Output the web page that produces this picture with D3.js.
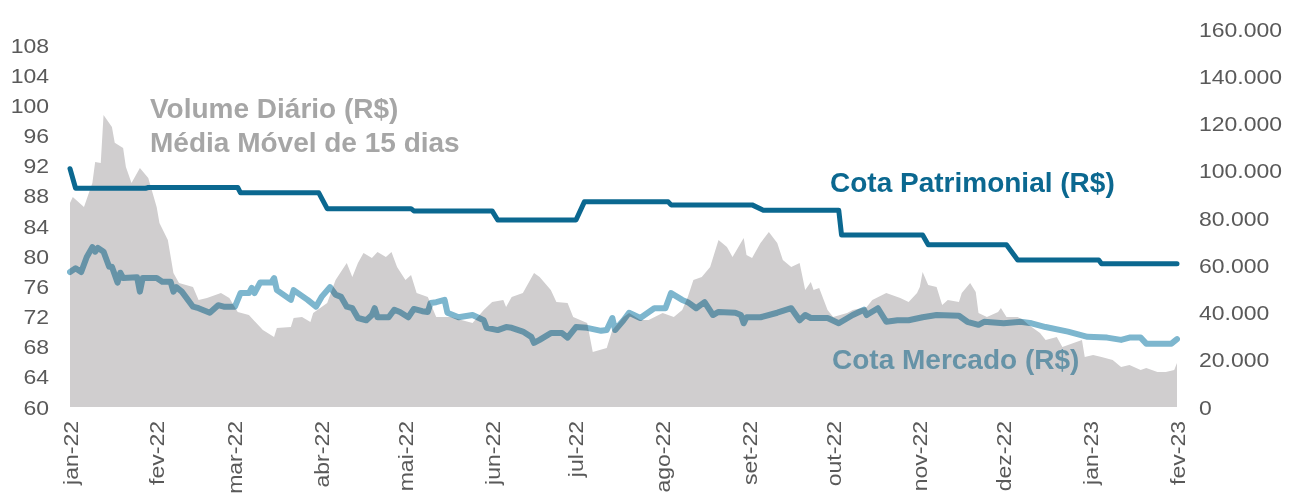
<!DOCTYPE html>
<html>
<head>
<meta charset="utf-8">
<script src="https://cdn.jsdelivr.net/npm/d3@7"></script>
<style>
  body { margin: 0; background: #fff; }
  svg { display: block; font-family: "Liberation Sans", Arial, sans-serif; }
</style>
</head>
<body>
<div id="vis"></div>
<script>
// chart frame
const FRAME_WIDTH = 1289;
const FRAME_HEIGHT = 494;
const PLOT = {left: 70, right: 1177, bottom: 407, topLeft: 45, topRight: 29};
const STRETCH = 1.15; // tick labels look wider than plain Arial

// month labels for the x axis
const monthNames = ["jan", "fev", "mar", "abr", "mai", "jun", "jul", "ago", "set", "out", "nov", "dez"];
const xStart = "2022-01-01";
const xEnd = "2023-02-01";

// left axis ticks (cota, R$) and right axis ticks (volume, R$)
const leftTicks = [60, 64, 68, 72, 76, 80, 84, 88, 92, 96, 100, 104, 108];
const rightTicks = [0, 20000, 40000, 60000, 80000, 100000, 120000, 140000, 160000];

// volume diario - media movel de 15 dias (right axis)
const volDates = [
  "2022-01-01","2022-01-02","2022-01-06","2022-01-09","2022-01-10","2022-01-12","2022-01-13","2022-01-16","2022-01-17","2022-01-20","2022-01-21","2022-01-23","2022-01-26","2022-01-29",
  "2022-02-01","2022-02-02","2022-02-05","2022-02-07","2022-02-09","2022-02-14","2022-02-16","2022-02-19","2022-02-24","2022-02-27",
  "2022-03-02","2022-03-06","2022-03-11","2022-03-15","2022-03-16","2022-03-21","2022-03-22","2022-03-25","2022-03-28","2022-03-29",
  "2022-04-03","2022-04-06","2022-04-10","2022-04-12","2022-04-14","2022-04-16","2022-04-19","2022-04-21","2022-04-24","2022-04-26","2022-04-28",
  "2022-05-01","2022-05-03","2022-05-05","2022-05-09","2022-05-12","2022-05-17","2022-05-25","2022-05-29",
  "2022-06-01","2022-06-05","2022-06-06","2022-06-08","2022-06-12","2022-06-16","2022-06-18","2022-06-22","2022-06-24","2022-06-28","2022-06-30",
  "2022-07-05","2022-07-07","2022-07-12","2022-07-14","2022-07-18","2022-07-20","2022-07-24","2022-07-27",
  "2022-08-01","2022-08-05","2022-08-08","2022-08-10","2022-08-12","2022-08-15","2022-08-18","2022-08-21","2022-08-24","2022-08-26","2022-08-30","2022-08-31",
  "2022-09-02","2022-09-05","2022-09-08","2022-09-11","2022-09-13","2022-09-16","2022-09-19","2022-09-21","2022-09-23","2022-09-24","2022-09-26","2022-09-29",
  "2022-10-01","2022-10-06","2022-10-08","2022-10-13","2022-10-15","2022-10-20","2022-10-25","2022-10-28","2022-10-31",
  "2022-11-01","2022-11-02","2022-11-04","2022-11-07","2022-11-09","2022-11-11","2022-11-15","2022-11-16","2022-11-19","2022-11-21","2022-11-22","2022-11-25","2022-11-29","2022-11-30",
  "2022-12-02","2022-12-06","2022-12-08","2022-12-10","2022-12-14","2022-12-16","2022-12-20","2022-12-22","2022-12-26","2022-12-29","2022-12-30",
  "2023-01-02","2023-01-05","2023-01-09","2023-01-12","2023-01-15","2023-01-19","2023-01-21","2023-01-25","2023-01-28","2023-01-31",
  "2023-02-01"];
const volValues = [
  86400,88900,84700,94800,103700,103300,123600,118500,111800,109600,101600,94800,101200,96900,
  84700,77900,70700,56700,52500,50800,45300,46100,48300,46100,
  40200,38900,32600,29600,33400,33900,37700,38100,36000,39800,
  44000,53800,61000,55000,61000,65200,63100,65600,63500,65600,59300,
  53800,55900,48300,46600,38100,38100,35600,41100,
  44400,45300,42300,46600,48300,56700,55000,49500,44400,44000,38100,
  35600,23300,25000,32600,38100,39800,36800,36800,
  39800,38100,41100,46600,53800,55000,59300,70700,67700,63500,71500,64300,
  63100,69400,74100,69400,62200,59300,61000,49500,52900,49500,50400,41100,
  38100,39800,41100,42300,45300,48300,46100,44400,48300,
  50800,57100,51600,50800,43200,45300,44400,48300,52500,48700,39800,38100,40200,41900,
  38100,38100,36800,34700,31300,28400,29600,25400,27100,28400,21200,
  22000,21200,19900,16900,17800,15700,16500,14800,14800,15700,
  18600];

// cota patrimonial (left axis)
const patDates = ["2022-01-01","2022-01-03","2022-01-28","2022-01-29","2022-03-02","2022-03-03","2022-03-31","2022-04-03",
  "2022-05-03","2022-05-04","2022-06-01","2022-06-03","2022-07-01","2022-07-04","2022-08-03","2022-08-04",
  "2022-09-02","2022-09-06","2022-10-03","2022-10-04","2022-11-02","2022-11-04","2022-12-02","2022-12-06",
  "2023-01-04","2023-01-05","2023-02-01"];
const patValues = [91.6,89.0,89.0,89.1,89.1,88.4,88.4,86.3,
  86.3,86.0,86.0,84.8,84.8,87.2,87.2,86.8,
  86.8,86.1,86.1,82.8,82.8,81.5,81.5,79.5,
  79.5,79.0,79.0];

// cota mercado (left axis)
const mktDates = [
  "2022-01-01","2022-01-03","2022-01-05","2022-01-07","2022-01-09","2022-01-10","2022-01-11","2022-01-13","2022-01-15","2022-01-16","2022-01-18","2022-01-19","2022-01-20","2022-01-25","2022-01-26","2022-01-27",
  "2022-02-01","2022-02-03","2022-02-06","2022-02-07","2022-02-08","2022-02-10","2022-02-14","2022-02-16","2022-02-20","2022-02-23","2022-02-25",
  "2022-03-01","2022-03-03","2022-03-06","2022-03-07","2022-03-08","2022-03-10","2022-03-14","2022-03-15","2022-03-16","2022-03-21","2022-03-22","2022-03-27","2022-03-30",
  "2022-04-01","2022-04-04","2022-04-06","2022-04-08","2022-04-10","2022-04-12","2022-04-14","2022-04-17","2022-04-19","2022-04-20","2022-04-21","2022-04-25","2022-04-27","2022-04-29",
  "2022-05-02","2022-05-04","2022-05-07","2022-05-09","2022-05-10","2022-05-12","2022-05-15","2022-05-16","2022-05-20","2022-05-25","2022-05-29","2022-05-30",
  "2022-06-03","2022-06-06","2022-06-08","2022-06-12","2022-06-15","2022-06-16","2022-06-18","2022-06-22","2022-06-24","2022-06-26","2022-06-28",
  "2022-07-01","2022-07-05","2022-07-10","2022-07-12","2022-07-14","2022-07-15","2022-07-18","2022-07-20","2022-07-24","2022-07-29",
  "2022-08-02","2022-08-04","2022-08-08","2022-08-10","2022-08-13","2022-08-16","2022-08-19","2022-08-21","2022-08-27","2022-08-29","2022-08-30","2022-08-31",
  "2022-09-05","2022-09-11","2022-09-16","2022-09-19","2022-09-21","2022-09-23","2022-09-29",
  "2022-10-03","2022-10-08","2022-10-12","2022-10-13","2022-10-17","2022-10-20","2022-10-24","2022-10-28",
  "2022-11-02","2022-11-07","2022-11-15","2022-11-18","2022-11-22","2022-11-24",
  "2022-12-01","2022-12-07","2022-12-11","2022-12-16","2022-12-24","2022-12-31",
  "2023-01-07","2023-01-12","2023-01-15","2023-01-19","2023-01-21","2023-01-30",
  "2023-02-01"];
const mktValues = [
  77.9,78.4,77.9,79.9,81.2,80.6,81.1,80.6,78.6,78.6,76.5,77.8,77.1,77.2,75.3,77.1,
  77.1,76.6,76.6,75.3,75.9,75.3,73.3,73.1,72.5,73.5,73.3,
  73.3,75.1,75.1,75.8,75.1,76.5,76.5,77.1,75.5,74.2,75.5,74.2,73.3,
  74.6,75.9,74.9,74.6,73.3,73.1,71.8,71.5,72.2,73.1,71.9,71.9,72.9,72.6,
  71.9,73.0,72.7,72.6,73.8,73.9,74.2,72.5,71.9,72.2,71.5,70.5,
  70.2,70.6,70.5,70.0,69.3,68.5,68.9,69.8,69.8,69.8,69.2,
  70.6,70.5,70.1,70.2,71.8,70.2,71.5,72.5,71.8,73.1,
  73.1,75.1,74.2,73.9,73.1,73.9,72.2,72.6,72.5,72.2,71.1,71.9,
  71.9,72.5,73.1,71.5,72.2,71.8,71.8,
  71.1,72.2,72.9,72.2,73.1,71.3,71.5,71.5,
  71.9,72.2,72.1,71.3,70.9,71.3,
  71.1,71.3,71.1,70.6,70.0,69.3,
  69.2,68.9,69.2,69.2,68.4,68.4,
  69.0];

const parseDate = d3.timeParse("%Y-%m-%d");
function zipSeries(dates, values) {
  const n = Math.min(dates.length, values.length);
  return d3.range(n).map((i) => ({date: parseDate(dates[i]), value: values[i]}));
}
const volData = zipSeries(volDates, volValues);
const patData = zipSeries(patDates, patValues);
const mktData = zipSeries(mktDates, mktValues);

// pt-BR number format for the right axis
const ptBR = d3.formatLocale({decimal: ",", thousands: ".", grouping: [3], currency: ["R$", ""]});
const fmtVol = ptBR.format(",");

const svg = d3.select("#vis")
  .append("svg")
    .attr("width", FRAME_WIDTH)
    .attr("height", FRAME_HEIGHT);

// scales
const X_SCALE = d3.scaleTime()
  .domain([parseDate(xStart), parseDate(xEnd)])
  .range([PLOT.left, PLOT.right]);
const Y_LEFT = d3.scaleLinear()
  .domain([60, 108])
  .range([PLOT.bottom, PLOT.topLeft]);
const Y_RIGHT = d3.scaleLinear()
  .domain([0, 160000])
  .range([PLOT.bottom, PLOT.topRight]);

// volume area
svg.append("path")
  .datum(volData)
  .attr("fill", "#d0cecf")
  .attr("d", d3.area()
    .x((d) => X_SCALE(d.date))
    .y0(Y_RIGHT(0))
    .y1((d) => Y_RIGHT(d.value)));

// cota mercado, multiplied over the area
svg.append("path")
  .datum(mktData)
  .attr("fill", "none")
  .attr("stroke", "#7db6ce")
  .attr("stroke-width", 6)
  .attr("stroke-linejoin", "round")
  .attr("stroke-linecap", "round")
  .style("mix-blend-mode", "multiply")
  .attr("d", d3.line().x((d) => X_SCALE(d.date)).y((d) => Y_LEFT(d.value)));

// cota patrimonial
svg.append("path")
  .datum(patData)
  .attr("fill", "none")
  .attr("stroke", "#0b6890")
  .attr("stroke-width", 5)
  .attr("stroke-linejoin", "round")
  .attr("stroke-linecap", "round")
  .attr("d", d3.line().x((d) => X_SCALE(d.date)).y((d) => Y_LEFT(d.value)));

// axes
function styleAxis(g) {
  g.select(".domain").remove();
  g.selectAll(".tick line").remove();
  g.selectAll("text")
    .attr("fill", "#595959")
    .attr("font-size", "20px")
    .attr("font-family", "Liberation Sans, Arial, sans-serif");
}

svg.append("g")
  .attr("transform", "translate(" + PLOT.left + ",0)")
  .call(d3.axisLeft(Y_LEFT).tickValues(leftTicks).tickSize(0))
  .call(styleAxis)
  .call((g) => g.selectAll("text")
    .attr("x", -21 / STRETCH)
    .attr("dy", "0.35em")
    .attr("transform", "scale(" + STRETCH + ",1)"));

svg.append("g")
  .attr("transform", "translate(" + PLOT.right + ",0)")
  .call(d3.axisRight(Y_RIGHT).tickValues(rightTicks).tickFormat(fmtVol).tickSize(0))
  .call(styleAxis)
  .call((g) => g.selectAll("text")
    .attr("x", 22 / STRETCH)
    .attr("dy", "0.35em")
    .attr("transform", "scale(" + STRETCH + ",1)"));

svg.append("g")
  .attr("transform", "translate(0," + PLOT.bottom + ")")
  .call(d3.axisBottom(X_SCALE)
    .ticks(d3.timeMonth.every(1))
    .tickFormat((d) => monthNames[d.getMonth()] + "-" + d3.timeFormat("%y")(d))
    .tickSize(0))
  .call(styleAxis)
  .call((g) => g.selectAll("text")
    .attr("text-anchor", "end")
    .attr("x", -14 / STRETCH)
    .attr("y", 0)
    .attr("dy", "0.35em")
    .attr("transform", "rotate(-90) scale(" + STRETCH + ",1)"));

// labels
const labels = svg.append("g")
  .attr("font-weight", "bold")
  .attr("font-size", "28px");

labels.append("text").attr("x", 150).attr("y", 118).attr("fill", "#a6a6a6").text("Volume Diário (R$)");
labels.append("text").attr("x", 150).attr("y", 152).attr("fill", "#a6a6a6").text("Média Móvel de 15 dias");
labels.append("text").attr("x", 830).attr("y", 192).attr("fill", "#0b6890").text("Cota Patrimonial (R$)");
labels.append("text").attr("x", 832).attr("y", 369).attr("fill", "#7db6ce")
  .style("mix-blend-mode", "multiply")
  .text("Cota Mercado (R$)");
</script>
</body>
</html>
